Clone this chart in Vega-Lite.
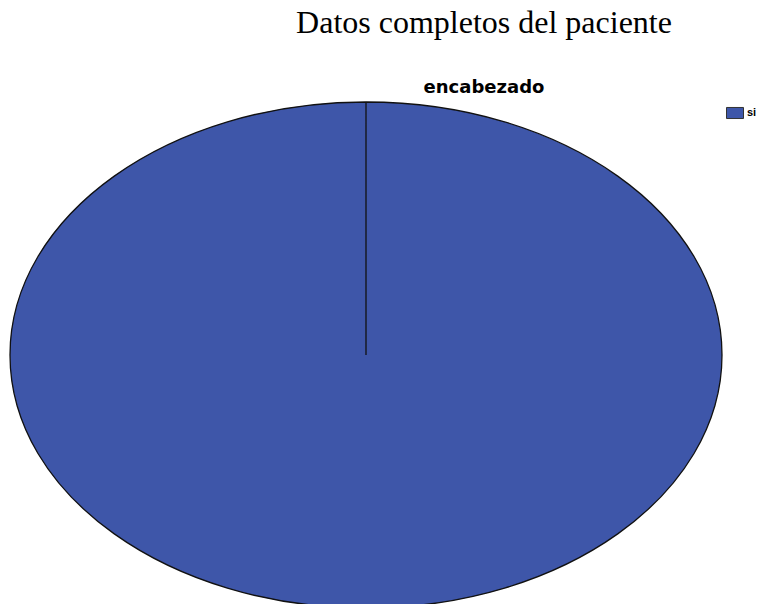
{
  "$schema": "https://vega.github.io/schema/vega-lite/v6.json",
  "width": 732,
  "height": 510,
  "autosize": {"type": "none"},
  "padding": {"top": 100, "left": 0, "right": 28, "bottom": 0},
  "background": "white",
  "title": {
    "text": "Datos completos del paciente",
    "subtitle": "encabezado",
    "anchor": "middle",
    "dx": 118,
    "offset": 1,
    "font": "Liberation Serif",
    "fontSize": 32,
    "fontWeight": "normal",
    "color": "#000000",
    "subtitleFont": "DejaVu Sans",
    "subtitleFontSize": 18,
    "subtitleFontWeight": "bold",
    "subtitleColor": "#000000",
    "subtitlePadding": 39
  },
  "data": {"values": [{"respuesta": "si", "porcentaje": 100}]},
  "mark": {
    "type": "point",
    "filled": true,
    "opacity": 1,
    "stroke": "#111111",
    "strokeWidth": 1.3,
    "size": 506944,
    "shape": "M -1 0 C -1 -0.3925 -0.5523 -0.7107 0 -0.7107 C 0.5523 -0.7107 1 -0.3925 1 0 C 1 0.3925 0.5523 0.7107 0 0.7107 C -0.5523 0.7107 -1 0.3925 -1 0 Z M 0 0 L 0 -0.7107"
  },
  "encoding": {
    "color": {
      "field": "respuesta",
      "type": "nominal",
      "scale": {"domain": ["si"], "range": ["#3E56A9"]},
      "legend": {
        "title": null,
        "orient": "none",
        "legendX": 726,
        "legendY": 4,
        "symbolType": "M -1 -0.65 L 1 -0.65 L 1 0.65 L -1 0.65 Z",
        "symbolSize": 289,
        "symbolStrokeColor": "#333333",
        "symbolStrokeWidth": 1,
        "symbolFillColor": "#3E56A9",
        "symbolOpacity": 1,
        "labelFont": "Liberation Sans",
        "labelFontSize": 11,
        "labelFontWeight": "bold",
        "labelColor": "#000000",
        "labelOffset": 3
      }
    },
    "tooltip": [
      {"field": "respuesta", "type": "nominal"},
      {"field": "porcentaje", "type": "quantitative"}
    ]
  },
  "config": {"view": {"stroke": null}}
}
